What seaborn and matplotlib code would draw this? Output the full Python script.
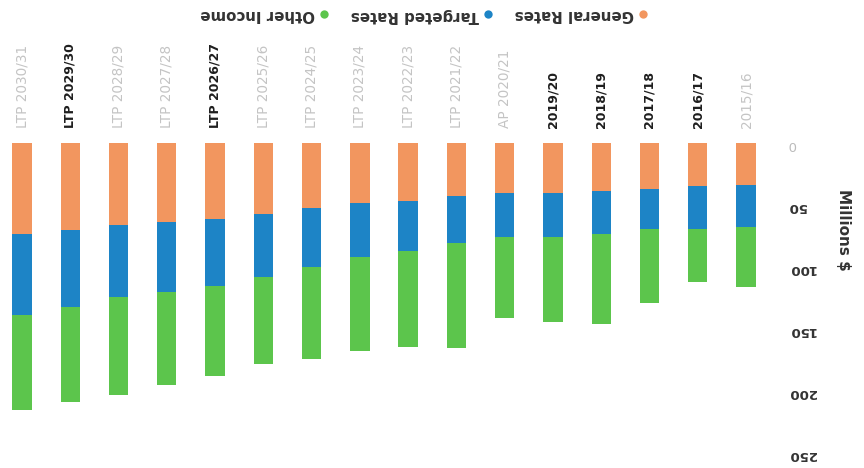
import matplotlib
matplotlib.use("Agg")
import matplotlib.pyplot as plt
from matplotlib.lines import Line2D
import numpy as np
import pandas as pd
import seaborn as sns

# Funding sources per financial year (millions of dollars)
years = ["2015/16", "2016/17", "2017/18", "2018/19", "2019/20", "AP 2020/21",
         "LTP 2021/22", "LTP 2022/23", "LTP 2023/24", "LTP 2024/25", "LTP 2025/26",
         "LTP 2026/27", "LTP 2027/28", "LTP 2028/29", "LTP 2029/30", "LTP 2030/31"]
general_rates = [33.9, 34.7, 37.4, 38.7, 40.0, 40.6, 42.7, 46.5, 48.7, 52.7, 57.3,
                 61.0, 64.0, 66.0, 70.0, 73.0]
targeted_rates = [33.6, 34.7, 32.2, 34.7, 36.0, 35.4, 38.3, 40.3, 43.0, 47.0, 50.5,
                  54.0, 56.4, 58.5, 62.0, 66.0]
other_income = [48.4, 42.4, 59.2, 72.6, 68.0, 65.4, 84.6, 78.0, 75.8, 74.8, 70.2,
                73.0, 74.6, 78.5, 77.0, 76.0]
series_names = ["General Rates", "Targeted Rates", "Other Income"]
y_ticks = [0, 50, 100, 150, 200, 250]
y_label = "Millions $"
dark_labels = ["2016/17", "2017/18", "2018/19", "2019/20", "LTP 2026/27", "LTP 2029/30"]

colors = {"General Rates": "#F2965F", "Targeted Rates": "#1D84C6", "Other Income": "#5CC54C"}

df = pd.DataFrame({"year": years, "General Rates": general_rates,
                   "Targeted Rates": targeted_rates, "Other Income": other_income})
df["gt"] = df["General Rates"] + df["Targeted Rates"]
df["total"] = df["gt"] + df["Other Income"]

sns.set_style("white")
plt.rcParams["font.family"] = ["DejaVu Sans"]

fig = plt.figure(figsize=(8.64, 4.68), dpi=100)
ax = fig.add_axes([0.0, 1 - 453 / 468, 770 / 864, (453 - 143) / 468])

# Stacked bars: draw cumulative totals back to front
for col, name in [("total", "Other Income"), ("gt", "Targeted Rates"), ("General Rates", "General Rates")]:
    sns.barplot(data=df, x="year", y=col, order=years, color=colors[name],
                saturation=1, width=0.4, errorbar=None, linewidth=0, ax=ax)

ax.set_xlim(15.456, -0.497)
ax.set_ylim(250, 0)
ax.set_xlabel("")
ax.set_ylabel("")
for s in ax.spines.values():
    s.set_visible(False)

# Category labels along the top
ax.xaxis.tick_top()
ax.set_xticks(range(len(years)))
ax.set_xticklabels(years)
ax.tick_params(axis="x", length=0, pad=10.8, labelrotation=90)
for t in ax.get_xticklabels():
    if t.get_text() in dark_labels:
        t.set_color("#1e1e1e")
        t.set_fontweight("bold")
        t.set_fontsize(9)
    else:
        t.set_color("#c4c4c4")
        t.set_fontsize(9.8)
    t.set_va("bottom")

# Value axis on the right
ax.yaxis.tick_right()
ax.set_yticks(y_ticks)
ax.set_yticklabels([str(v) for v in y_ticks])
ax.tick_params(axis="y", length=0, pad=13, labelrotation=180)
for t in ax.get_yticklabels():
    t.set_fontsize(9.5)
    t.set_fontweight("bold")
    t.set_color("#333333")
ax.get_yticklabels()[0].set_color("#bbbbbb")
ax.get_yticklabels()[0].set_fontweight("normal")

fig.text(843 / 864, 1 - 230 / 468, y_label, rotation=270, ha="center", va="center",
         fontsize=11, fontweight="bold", color="#333333")

# Legend
order = ["Other Income", "Targeted Rates", "General Rates"]
handles = [Line2D([], [], marker="o", linestyle="", markersize=6,
                  markerfacecolor=colors[n], markeredgewidth=0) for n in order]
leg = fig.legend(handles, order, ncol=3, markerfirst=False, frameon=False,
                 loc="center", bbox_to_anchor=(424 / 864, 1 - 15 / 468),
                 handlelength=0.6, handletextpad=0.3, columnspacing=1.5,
                 prop={"size": 10.8, "weight": "bold"})
for t in leg.get_texts():
    t.set_rotation(180)
    t.set_color("#333333")

fig.savefig("out.png", dpi=100, facecolor="white")
